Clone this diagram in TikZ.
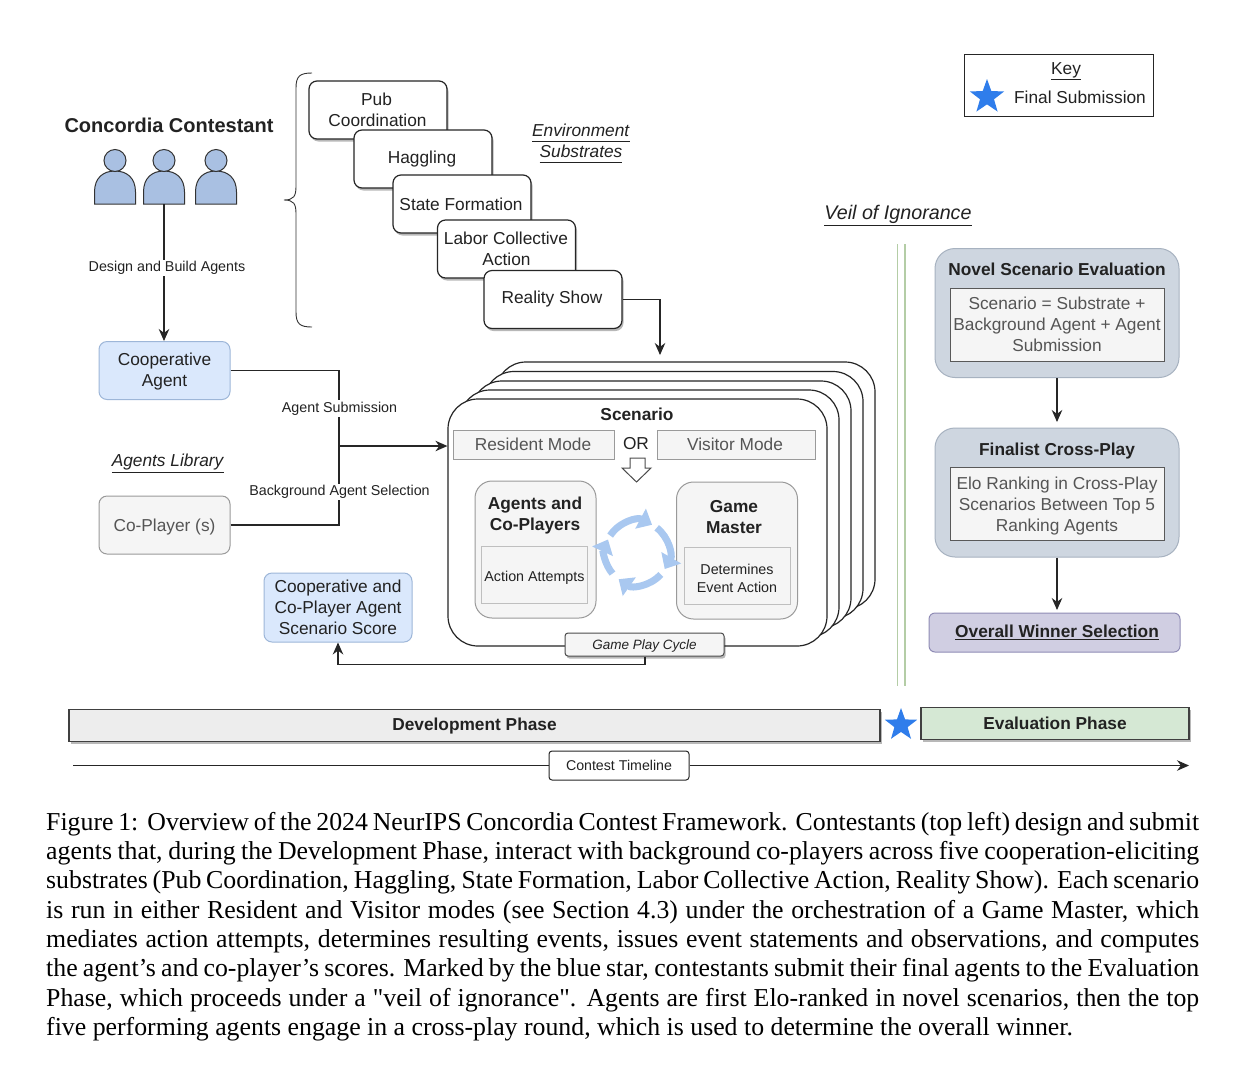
\documentclass[tikz,border=0pt]{standalone}
\usepackage{fontspec}
\setmainfont{Liberation Sans}
\newfontfamily\capfont{Liberation Serif}
\usetikzlibrary{arrows.meta,shadows,shapes.geometric}
\definecolor{txt}{HTML}{222222}
\definecolor{grayt}{HTML}{555555}
\definecolor{coopf}{HTML}{DAE8FC}
\definecolor{coopd}{HTML}{9DB6D8}
\definecolor{greyf}{HTML}{F5F5F5}
\definecolor{greyd}{HTML}{9A9A9A}
\definecolor{slatef}{HTML}{CED6E0}
\definecolor{slated}{HTML}{A7B2C0}
\definecolor{purpf}{HTML}{D0CEE2}
\definecolor{purpd}{HTML}{8F8BB5}
\definecolor{greenf}{HTML}{D5E8D4}
\definecolor{persf}{HTML}{A9C0E2}
\definecolor{cyclec}{HTML}{A9C8F0}
\definecolor{starc}{HTML}{2F7DEB}
\definecolor{veilc}{HTML}{B4CDA6}
\newcommand{\ulit}[1]{\underline{\smash{\textit{#1}}\vphantom{g}}}
\newcommand{\capline}[1]{\hbox to 1153pt{#1\unskip}}
\tikzset{
  x=1pt,y=-1pt,
  base/.style={align=center,inner sep=0pt,text=txt,font=\fontsize{17.3}{21}\selectfont},
  arr/.style={draw=black!85,line width=1.1pt,-{Stealth[length=12pt,width=10.5pt]}},
  conn/.style={draw=black!85,line width=1.1pt},
  shad/.style={drop shadow={shadow xshift=1.5pt,shadow yshift=-2.5pt,fill=black,opacity=.28}},
  subbox/.style={base,draw=black!85,line width=1.2pt,fill=white,rounded corners=8pt,minimum width=138pt,minimum height=58pt,shad},
  coopbox/.style={base,draw=coopd,line width=1pt,fill=coopf,rounded corners=8pt},
  libbox/.style={base,draw=greyd,line width=1pt,fill=greyf,rounded corners=8pt,text=grayt,minimum width=131pt,minimum height=58pt},
  stackbox/.style={draw=black!85,line width=1.2pt,fill=white,rounded corners=30pt,minimum width=379pt,minimum height=247pt,inner sep=0pt},
  modebox/.style={base,draw=greyd,line width=1pt,fill=greyf,text=grayt,minimum height=29pt},
  playbox/.style={base,draw=greyd,line width=1pt,fill=greyf,rounded corners=17pt,minimum width=121pt,minimum height=137pt},
  innerbox/.style={base,draw=black!25,line width=1pt,fill=greyf,minimum width=106pt,minimum height=57pt,font=\fontsize{14.3}{17.5}\selectfont},
  evalbox/.style={base,draw=slated,line width=1pt,fill=slatef,rounded corners=20pt,minimum width=244pt,minimum height=129pt},
  evalin/.style={base,draw=black!65,line width=.9pt,fill=greyf,text=grayt,minimum width=214pt,minimum height=73pt},
  phase/.style={base,draw=black!75,line width=1.2pt,minimum height=32pt,font=\fontsize{17.3}{21}\selectfont\bfseries,shad},
  tinylabel/.style={base,fill=white,inner sep=1.5pt,font=\fontsize{14.3}{17}\selectfont},
  starmark/.style={star,star points=5,star point ratio=2.45,fill=starc,draw=none,inner sep=0pt,minimum size=#1},
  cycarr/.style={draw=cyclec,line width=7pt,-{Triangle[length=13pt,width=22pt]}},
  personshape/.style={draw=black!80,line width=1pt,fill=persf}
}
\begin{document}
\begin{tikzpicture}
\useasboundingbox (0,0) rectangle (1246,1066);
\fill[white] (0,0) rectangle (1246,1066);

% Contestants
\node[base,font=\fontsize{20}{24}\selectfont\bfseries] (title) at (169,125) {Concordia Contestant};
\foreach \px in {115,164,216}{
  \path[personshape] (\px-20.5,204) -- (\px-20.5,192) .. controls (\px-20.5,178) and (\px-12,171) .. (\px,171)
     .. controls (\px+12,171) and (\px+20.5,178) .. (\px+20.5,192) -- (\px+20.5,204) -- cycle;
  \path[personshape] (\px,160.5) circle[radius=11pt];
}
\coordinate (pers) at (164,204);

% Left boxes
\node[coopbox,minimum width=131pt,minimum height=58pt] (coop) at (164.5,370.5) {\rule{0pt}{15pt}Cooperative\\Agent};
\node[libbox] (coplayer) at (164.5,525) {\rule{0pt}{16pt}Co-Player (s)};
\node[coopbox,minimum width=148pt,minimum height=69pt] (score) at (338,607.5) {Cooperative and\\Co-Player Agent\\Scenario Score};
\node[base,font=\fontsize{17.3}{21}\selectfont] (library) at (168,465) {\ulit{Agents Library}};

\draw[arr] (pers) -- (coop.north -| pers);
\node[tinylabel] (design) at (167,268) {Design and Build Agents};

% Brace
\draw[draw=black!80,line width=.9pt] (312,73) .. controls (300,73) and (296,76) .. (296,88) -- (296,186)
  .. controls (296,196) and (294,200) .. (284,200) .. controls (294,200) and (296,204) .. (296,214)
  -- (296,312) .. controls (296,324) and (300,327) .. (312,327);

% Substrates
\node[subbox] (pub) at (378,110) {\kern-3pt Pub\\Coordination\kern1pt};
\node[subbox] (hag) at (423,159) {\kern-2pt Haggling};
\node[subbox] (state) at (462,204) {\kern-2pt State Formation};
\node[subbox] (labor) at (506.5,249) {\kern-1pt Labor Collective\\Action};
\node[subbox] (reality) at (553,299.5) {\kern-2pt Reality Show};
\node[base,font=\fontsize{17.3}{21}\selectfont] (envlabel) at (581,145) {\ulit{Environment}\\[0.5pt]\ulit{Substrates}};

% Stack of scenarios
\node[stackbox] (s4) at (685.5,485.5) {};
\node[stackbox] (s3) at (673.5,495) {};
\node[stackbox] (s2) at (661.5,504.5) {};
\node[stackbox] (s1) at (649.5,513.5) {};
\node[stackbox] (scen) at (637.5,522.5) {};
\node[base,font=\fontsize{17.3}{21}\selectfont\bfseries] (scentitle) at (637,414) {Scenario};
\node[modebox,minimum width=161pt] (resident) at (534,444.5) {\kern-2pt Resident Mode};
\node[modebox,minimum width=158pt] (visitor) at (736,444.5) {\kern-2pt Visitor Mode};
\node[base] (ortext) at (636,444) {OR};
\path[draw=black!70,line width=1pt,fill=white] (630,458) -- (645,458) -- (645,468) -- (651,468) -- (636.5,482) -- (622,468) -- (630,468) -- cycle;

\node[playbox] (agents) at (535.5,549.5) {};
\node[playbox] (master) at (737,550.5) {};
\node[base,font=\fontsize{17.3}{21}\selectfont\bfseries] (agtxt) at (535,516) {Agents and\\Co-Players};
\node[base,font=\fontsize{17.3}{21}\selectfont\bfseries] (gmtxt) at (734,517) {Game\\Master};
\node[innerbox] (attempts) at (534.5,575) {\rule{0pt}{16pt}Action Attempts};
\node[innerbox] (determines) at (737,576) {\rule{0pt}{15pt}Determines\\Event Action};

% Cycle arrows
\coordinate (cyc) at (637,553);
\draw[cycarr] (cyc) ++(147:32pt) arc[start angle=147,end angle=62,radius=32pt];
\draw[cycarr] (cyc) ++(52:32pt) arc[start angle=52,end angle=-30,radius=32pt];
\draw[cycarr] (cyc) ++(-42:32pt) arc[start angle=-42,end angle=-125,radius=32pt];
\draw[cycarr] (cyc) ++(-140:32pt) arc[start angle=-140,end angle=-205,radius=32pt];

\node[base,draw=black!70,line width=1pt,fill=greyf,rounded corners=3pt,minimum width=159pt,minimum height=23pt,font=\fontsize{13.5}{16}\selectfont\itshape,shad] (cycle) at (644.5,644.5) {\rule{0pt}{13pt}Game Play Cycle};

% Connectors
\coordinate (junc) at (339,446);
\draw[conn] (coop.east) -| (junc);
\draw[conn] (coplayer.east) -| (junc);
\draw[arr] (junc) -- (scen.west |- junc);
\node[tinylabel] (agsub) at (339.5,408.5) {Agent Submission};
\node[tinylabel] (bgsel) at (339.5,492) {Background Agent Selection};
\coordinate (sceninto) at (660,355);
\draw[arr] (reality.east) -| (sceninto);
\coordinate (under) at (645,664.5);
\draw[arr] (cycle.south -| under) -- (under) -| (score.south);

% Key
\node[base,draw=black!85,line width=1pt,fill=white,minimum width=189pt,minimum height=62pt] (key) at (1058.5,85) {};
\node[base] (keytitle) at (1066,71) {\underline{Key}};
\node[starmark=36pt] (keystar) at (987,97) {};
\node[base] (keytext) at (1080,97) {Final Submission};

% Veil
\node[base,font=\fontsize{19.7}{24}\selectfont] (veil) at (898,217) {\ulit{Veil of Ignorance}};
\coordinate (veilA) at (897.5,244);
\coordinate (veilB) at (897.5,686);
\coordinate (veilC) at (905,244);
\coordinate (veilD) at (905,686);
\draw[veilc,line width=1.9pt] (veilA) -- (veilB);
\draw[veilc,line width=1.9pt] (veilC) -- (veilD);

% Evaluation
\node[evalbox] (novel) at (1057,313) {};
\node[base,font=\fontsize{17.3}{21}\selectfont\bfseries] (noveltitle) at (1057,269) {Novel Scenario Evaluation};
\node[evalin] (novelin) at (1057,324.5) {Scenario = Substrate +\\Background Agent + Agent\\Submission};
\node[evalbox] (final) at (1057,492.5) {};
\node[base,font=\fontsize{17.3}{21}\selectfont\bfseries] (finaltitle) at (1057,451) {Finalist Cross-Play};
\node[evalin] (finalin) at (1057,503.5) {\rule{0pt}{17pt}Elo Ranking in Cross-Play\\Scenarios Between Top 5\\Ranking Agents};
\node[base,draw=purpd,line width=1pt,fill=purpf,rounded corners=6pt,minimum width=251pt,minimum height=39pt,font=\fontsize{17.3}{21}\selectfont\bfseries] (winner) at (1054.5,632.5) {\kern5pt\underline{Overall Winner Selection}};
\coordinate (toFinal) at (1057,422);
\coordinate (toWinner) at (1057,610);
\draw[arr] (novel.south) -- (toFinal);
\draw[arr] (final.south) -- (toWinner);

% Phases
\node[phase,fill=black!7,minimum width=811pt] (dev) at (474.5,725.5) {\rule{0pt}{14pt}Development Phase};
\node[starmark=34pt] (midstar) at (901,725) {};
\node[phase,fill=greenf,minimum width=268pt] (evalp) at (1055,723.5) {Evaluation Phase};

% Timeline
\node[base,draw=black!85,line width=1pt,fill=white,rounded corners=3pt,minimum width=140pt,minimum height=29pt,font=\fontsize{14.2}{17}\selectfont] (timeline) at (619,765.5) {Contest Timeline};
\coordinate (tStart) at (73,765.5);
\coordinate (tEnd) at (1189,765.5);
\draw[conn] (tStart) -- (timeline.west);
\draw[arr] (timeline.east) -- (tEnd);

% Caption
\node[anchor=north west,inner sep=0pt,text=black,font=\capfont\fontsize{25.8}{29.3}\selectfont,align=left] (caption) at (46,812) {%
\capline{Figure 1:\hskip 9pt Overview of the 2024 NeurIPS Concordia Contest Framework. Contestants (top left) design and submit}\\
\capline{agents that, during the Development Phase, interact with background co-players across five cooperation-eliciting}\\
\capline{substrates (Pub Coordination, Haggling, State Formation, Labor Collective Action, Reality Show). Each scenario}\\
\capline{is run in either Resident and Visitor modes (see Section 4.3) under the orchestration of a Game Master, which}\\
\capline{mediates action attempts, determines resulting events, issues event statements and observations, and computes}\\
\capline{the agent’s and co-player’s scores. Marked by the blue star, contestants submit their final agents to the Evaluation}\\
\capline{Phase, which proceeds under a "veil of ignorance". Agents are first Elo-ranked in novel scenarios, then the top}\\
five performing agents engage in a cross-play round, which is used to determine the overall winner.};
\end{tikzpicture}
\end{document}
